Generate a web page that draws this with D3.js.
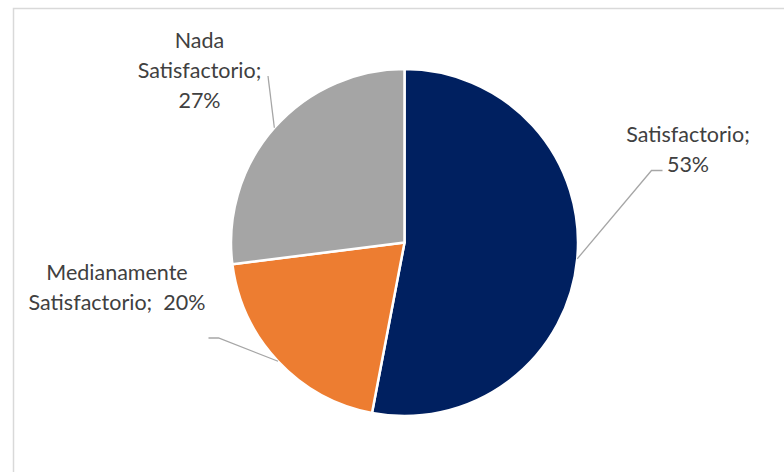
<!DOCTYPE html>
<html>
<head>
<meta charset="utf-8">
<script src="https://cdn.jsdelivr.net/npm/d3@7"></script>
<style>
  html, body { margin: 0; padding: 0; background: #fff; }
  svg { display: block; }
  text { font-family: Lato, "Open Sans", sans-serif; fill: #404040; }
</style>
</head>
<body>
<svg id="chart" width="784" height="472"></svg>
<script>
// Survey satisfaction shares
const categories = ["Satisfactorio", "Medianamente Satisfactorio", "Nada Satisfactorio"];
const shares = [53, 20, 27];
const colors = ["#002060", "#ED7D31", "#A5A5A5"];
// label text, one array of lines per slice
const labelLines = [
  ["Satisfactorio;", "53%"],
  ["Medianamente", "Satisfactorio;  20%"],
  ["Nada", "Satisfactorio;", "27%"]
];

const W = 784, H = 472;
const cx = 404.5, cy = 242.5, R = 173.5;

const svg = d3.select("#chart");

// chart area frame
svg.append("rect")
  .attr("x", 13.5).attr("y", 8.5)
  .attr("width", W + 20).attr("height", H + 20)
  .attr("fill", "#fff")
  .attr("stroke", "#D9D9D9").attr("stroke-width", 1.5);

const data = categories.map((c, i) => ({ name: c, value: shares[i], color: colors[i], lines: labelLines[i] }));

const pie = d3.pie().value(d => d.value).sort(null);
const arc = d3.arc().innerRadius(0).outerRadius(R);
const arcs = pie(data);

const g = svg.append("g").attr("transform", `translate(${cx},${cy})`);

g.selectAll("path.slice")
  .data(arcs)
  .join("path")
  .attr("class", "slice")
  .attr("d", arc)
  .attr("fill", d => d.data.color)
  .attr("stroke", "#fff")
  .attr("stroke-width", 2.5)
  .attr("stroke-linejoin", "round");

// label placement: text anchor point and leader elbow, relative to chart center
const layout = [
  { tx: 283.5, ty: -101, elbow: [247, -72], end: [258, -72] },
  { tx: -287.5, ty: 37.5, elbow: [-186, 95.5], end: [-196, 95.5] },
  { tx: -205, ty: -194.5, elbow: [-136.5, -166.5], end: [-136.5, -166.5] }
];

const lineH = 30;

arcs.forEach((a, i) => {
  const mid = (a.startAngle + a.endAngle) / 2;
  const p = [R * Math.sin(mid), -R * Math.cos(mid)];
  const L = layout[i];
  g.append("polyline")
    .attr("points", [p, L.elbow, L.end].map(q => q.join(",")).join(" "))
    .attr("fill", "none")
    .attr("stroke", "#A6A6A6")
    .attr("stroke-width", 1.3);

  const t = g.append("text")
    .attr("text-anchor", "middle")
    .attr("font-size", 21.5);
  a.data.lines.forEach((ln, j) => {
    t.append("tspan")
      .attr("x", L.tx)
      .attr("y", L.ty + j * lineH)
      .attr("xml:space", "preserve")
      .style("white-space", "pre")
      .text(ln);
  });
});
</script>
</body>
</html>
